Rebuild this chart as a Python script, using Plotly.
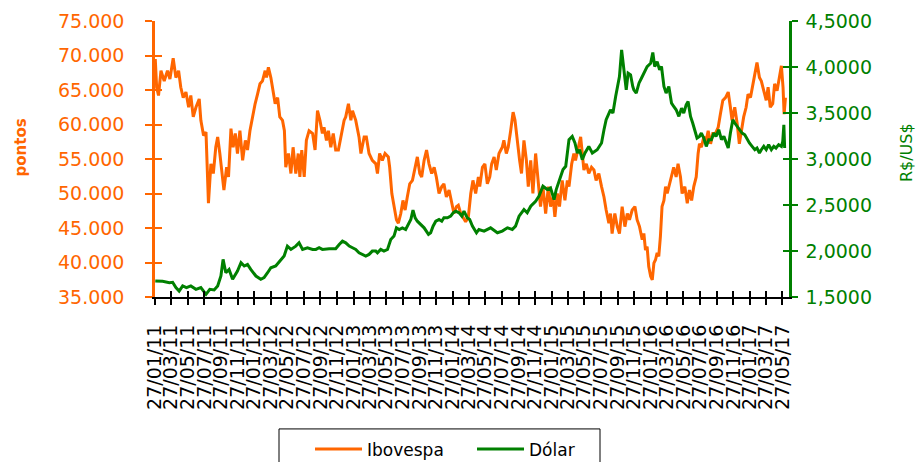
import pandas as pd
import plotly.graph_objects as go

# ---------------- data ----------------
inicio = pd.Timestamp("2011-01-27")

# Ibovespa: days since 27/01/2011 and value in thousand points
dias_ibov = [
    0, 5, 12, 21, 33, 45, 54, 66, 76, 86, 94, 103, 113, 123, 131, 140, 150, 162, 168, 178,
    187, 196, 205, 214, 223, 230, 238, 246, 253, 263, 270, 279, 287, 295, 303, 312, 322, 332, 340, 349,
    359, 368, 377, 386, 395, 405, 410, 417, 426, 435, 442, 451, 459, 469, 476, 481, 491, 500, 508, 518,
    527, 533, 540, 549, 557, 567, 580,
    589, 598, 607, 616, 622, 631, 638, 647, 656, 665, 675, 684, 696, 702, 712, 721, 727, 739, 751, 758,
    770, 778, 788, 800, 813, 819, 827, 837, 847, 859, 864, 872, 880, 889, 896, 905, 913, 921, 929, 938,
    948, 958, 966, 975, 982, 991, 1000, 1009, 1019, 1028, 1036, 1046, 1056, 1064, 1073, 1083, 1093, 1101,
    1110, 1117, 1126, 1134, 1144, 1154,
    1163, 1171, 1181, 1191, 1196, 1206, 1215, 1224, 1233, 1240, 1249, 1257, 1267, 1279, 1285, 1294, 1301,
    1310, 1319, 1326, 1335, 1343, 1350, 1359, 1368, 1375, 1384, 1392, 1402, 1412, 1420, 1429, 1439, 1449,
    1457, 1466, 1473, 1482, 1490, 1500, 1510, 1519, 1525, 1535, 1543, 1549, 1559, 1568, 1574, 1580, 1589,
    1598, 1608, 1617, 1625, 1635, 1645, 1654, 1662, 1672, 1678, 1684, 1694, 1703, 1711, 1721, 1731, 1740,
    1748, 1758,
    1768, 1776, 1785, 1795, 1801, 1807, 1813, 1819, 1826, 1832, 1838, 1844, 1850, 1856, 1862, 1868, 1875,
    1881, 1887, 1893, 1903, 1911, 1920, 1927, 1936, 1942, 1952, 1961, 1969, 1977, 1985, 1994, 2001, 2006,
    2013, 2022, 2031, 2038, 2047, 2055, 2065, 2075, 2083, 2092, 2102, 2112, 2120, 2126, 2136, 2145, 2153,
    2161, 2169, 2178, 2185, 2194, 2202, 2210, 2218, 2227, 2234, 2243, 2252, 2259, 2267, 2276, 2283, 2292,
    2301, 2308, 2314, 2318, 2323,
]
ibovespa_mil = [
    69.5, 65.4, 64.2, 67.8, 66.3, 67.8, 66.6, 69.6, 66.8, 67.8, 65.4, 63.9, 64.7, 62.5, 64.2, 61.1, 62.5, 63.7, 60.6, 58.4,
    58.9, 48.6, 54.3, 52.9, 56.7, 58.2, 55.8, 52.4, 50.5, 53.8, 52.4, 59.4, 56.7, 58.7, 55.8, 59.1, 54.8, 57.7, 56.3, 59.1,
    61.5, 63.0, 64.4, 65.9, 66.3, 67.8, 66.8, 68.3, 66.8, 64.9, 63.0, 63.9, 61.1, 60.6, 59.1, 53.8, 55.8, 52.9, 56.7, 52.9,
    55.8, 52.4, 56.3, 52.4, 57.7, 59.1, 58.7,
    56.3, 62.0, 60.6, 58.7, 59.6, 57.7, 59.1, 56.7, 58.7, 56.3, 56.3, 58.2, 60.6, 61.1, 63.0, 60.6, 62.0, 60.6, 58.2, 55.8,
    58.2, 58.2, 55.8, 54.8, 54.3, 52.9, 55.8, 54.8, 55.8, 55.3, 53.8, 50.0, 48.1, 46.2, 45.7, 47.1, 49.0, 47.6, 49.5, 51.4,
    51.9, 53.8, 55.3, 52.9, 52.4, 54.8, 56.3, 54.3, 52.9, 53.8, 52.4, 50.0, 51.0, 51.4, 49.5, 50.5, 48.6, 47.1,
    48.1, 48.3, 47.1, 46.6, 45.9, 46.6,
    50.0, 51.9, 50.0, 52.4, 51.0, 53.8, 54.3, 51.4, 52.4, 54.3, 55.3, 53.4, 55.8, 56.7, 57.7, 55.8, 56.7,
    59.1, 61.8, 60.6, 57.2, 54.8, 52.9, 57.7, 54.8, 51.0, 54.8, 50.0, 55.8, 51.9, 48.1, 51.0, 47.1, 51.0,
    48.1, 49.5, 46.6, 50.0, 48.1, 51.9, 49.0, 51.9, 51.0, 54.3, 55.8, 54.8, 56.7, 58.2, 55.8, 53.4, 54.3,
    52.9, 53.8, 53.4, 51.9, 52.9, 51.0, 49.5, 47.6, 45.7, 47.1, 44.2, 47.1, 45.2, 44.2, 48.1, 45.2, 47.1,
    46.2, 47.6,
    48.1, 46.2, 45.2, 43.3, 44.2, 41.8, 42.3, 39.4, 38.0, 37.5, 39.9, 40.4, 41.4, 40.9, 43.8, 48.1, 49.0,
    51.0, 50.0, 51.0, 52.9, 53.8, 52.4, 54.3, 52.4, 50.0, 51.0, 48.6, 50.5, 49.0, 51.0, 52.4, 55.8, 57.2,
    56.7, 58.2, 57.7, 59.1, 57.2, 58.7, 58.7, 59.6, 61.5, 63.5, 63.9, 64.7, 62.5, 60.6, 62.5, 60.1, 57.2,
    59.1, 61.1, 62.5, 64.4, 63.9, 65.4, 67.3, 69.0, 66.8, 66.3, 64.9, 63.5, 65.4, 62.5, 63.0, 65.9, 64.9,
    66.8, 68.5, 65.4, 61.5, 63.9,
]

# Dólar (R$/US$): days since 27/01/2011 and rate
dias_dolar = [
    0, 27, 52, 64, 76, 88, 101, 115, 131, 150, 168, 187, 201, 217, 230, 242, 250, 260, 272, 285,
    303, 316, 328, 340, 352, 371, 389, 401, 414, 426, 444, 463, 475, 487, 500, 518, 530, 543, 561, 580,
    592, 604, 616, 641, 665, 678, 690, 702, 715, 727, 739, 751, 764, 776, 788, 800, 813, 819, 831, 843,
    856, 868, 880, 889, 899, 911, 923, 933, 942, 950, 958, 966, 979, 991, 1007, 1015, 1024, 1034, 1046,
    1056, 1064, 1077, 1089, 1098, 1107, 1120, 1130, 1138, 1150, 1159, 1169,
    1184, 1193, 1212, 1236, 1261, 1279, 1298, 1316, 1328, 1341, 1359, 1371, 1384, 1402, 1414, 1429, 1445,
    1457, 1470, 1478, 1490, 1503, 1513, 1519, 1525, 1537, 1547, 1556, 1564, 1574, 1584, 1598, 1611, 1629,
    1645, 1654, 1662, 1678, 1687, 1697, 1707, 1711, 1719, 1727, 1736, 1743, 1752, 1760,
    1764, 1773, 1783, 1792, 1801, 1813, 1826, 1834, 1841, 1850, 1859, 1866, 1875, 1883, 1893, 1903, 1911,
    1920, 1930, 1940, 1948, 1957, 1964, 1973, 1981, 1989, 1997, 2006, 2013, 2022, 2031, 2040, 2050, 2059,
    2067, 2077, 2087, 2096, 2104, 2112, 2120, 2129, 2136, 2145, 2153, 2163, 2173, 2182, 2190, 2200, 2210,
    2218, 2227, 2234, 2243, 2252, 2261, 2271, 2280, 2288, 2298, 2308, 2313, 2317, 2320,
]
dolar = [
    1.674, 1.670, 1.656, 1.660, 1.602, 1.565, 1.620, 1.602, 1.620, 1.583, 1.602, 1.529, 1.583, 1.576, 1.620, 1.728, 1.909, 1.764, 1.800, 1.692,
    1.782, 1.873, 1.837, 1.855, 1.800, 1.728, 1.692, 1.710, 1.764, 1.818, 1.837, 1.909, 1.945, 2.053, 2.017, 2.053, 2.089, 2.017, 2.035, 2.017,
    2.017, 2.035, 2.017, 2.024, 2.024, 2.071, 2.107, 2.089, 2.053, 2.035, 2.017, 1.981, 1.963, 1.945, 1.963, 1.999, 1.999, 1.981, 2.017, 1.999,
    2.017, 2.125, 2.162, 2.252, 2.234, 2.252, 2.234, 2.288, 2.342, 2.444, 2.361, 2.324, 2.288, 2.252, 2.180, 2.198, 2.270, 2.324, 2.342,
    2.324, 2.361, 2.361, 2.379, 2.415, 2.433, 2.415, 2.379, 2.433, 2.361, 2.342, 2.270,
    2.198, 2.234, 2.216, 2.252, 2.198, 2.216, 2.252, 2.234, 2.270, 2.379, 2.451, 2.415, 2.487, 2.541, 2.595, 2.704, 2.668,
    2.686, 2.559, 2.668, 2.776, 2.885, 2.921, 3.065, 3.210, 3.246, 3.174, 3.065, 3.101, 2.993, 3.065, 3.137, 3.065, 3.101,
    3.174, 3.318, 3.427, 3.535, 3.499, 3.680, 3.860, 3.896, 4.186, 3.969, 3.752, 3.933, 3.915, 3.788,
    3.752, 3.716, 3.824, 3.878, 3.933, 4.005, 4.041, 4.157, 4.005, 4.059, 3.969, 4.005, 3.788, 3.716, 3.788, 3.607, 3.571,
    3.535, 3.463, 3.553, 3.499, 3.589, 3.625, 3.463, 3.391, 3.318, 3.228, 3.246, 3.282, 3.228, 3.137, 3.210, 3.210, 3.282,
    3.246, 3.318, 3.210, 3.246, 3.174, 3.119, 3.282, 3.427, 3.391, 3.354, 3.318, 3.282, 3.264, 3.210, 3.174, 3.137, 3.101,
    3.119, 3.065, 3.101, 3.137, 3.101, 3.156, 3.101, 3.137, 3.119, 3.156, 3.137, 3.192, 3.372, 3.119,
]

# tick labels: every two months, 27/01/11 ... 27/05/17
marcas = pd.date_range("2011-01-27", "2017-05-27", freq=pd.DateOffset(months=2))
rotulos = [d.strftime("%d/%m/%y") for d in marcas]

# ---------------- styling ----------------
LARANJA = "#FF6600"
VERDE = "#008000"
FONTE = "DejaVu Sans"

datas_ibov = [inicio + pd.Timedelta(days=d) for d in dias_ibov]
valores_ibov = [v * 1000 for v in ibovespa_mil]
datas_dolar = [inicio + pd.Timedelta(days=d) for d in dias_dolar]
faixa_x = [inicio - pd.Timedelta(days=1), inicio + pd.Timedelta(days=2336)]
faixa_y1 = [35000, 75000]
faixa_y2 = [1.5, 4.5]

fig = go.Figure()
fig.add_trace(go.Scatter(x=datas_ibov, y=valores_ibov, name="Ibovespa", mode="lines",
                         line=dict(color=LARANJA, width=3), xaxis="x", yaxis="y"))
fig.add_trace(go.Scatter(x=datas_dolar, y=dolar, name="Dólar", mode="lines",
                         line=dict(color=VERDE, width=3), xaxis="x", yaxis="y2"))
# invisible helpers so the overlay axes (inner half of crossing ticks) are drawn
fig.add_trace(go.Scatter(x=[None], y=[None], xaxis="x2", yaxis="y3", showlegend=False, hoverinfo="skip"))
fig.add_trace(go.Scatter(x=[None], y=[None], xaxis="x", yaxis="y4", showlegend=False, hoverinfo="skip"))

fig.update_layout(
    width=918, height=462, autosize=False,
    margin=dict(l=155, r=129, t=21, b=165, autoexpand=False),
    paper_bgcolor="white", plot_bgcolor="white",
    separators=",.",
    font=dict(family=FONTE, color="black"),
    showlegend=True,
    xaxis=dict(type="date", range=faixa_x, tickvals=marcas, ticktext=rotulos, tickangle=-90,
               ticks="outside", ticklen=6, tickwidth=1.5, tickcolor="black",
               showline=True, linecolor="black", linewidth=2, showgrid=False, zeroline=False,
               tickfont=dict(size=19, color="black", family=FONTE), ticklabelstandoff=12, anchor="y"),
    xaxis2=dict(type="date", range=faixa_x, tickvals=marcas, overlaying="x", anchor="y", side="bottom",
                ticks="inside", ticklen=6, tickwidth=1.5, tickcolor="black", showticklabels=False,
                showline=False, showgrid=False, zeroline=False),
    yaxis=dict(range=faixa_y1, tick0=35000, dtick=5000, tickformat=",.0f",
               ticks="outside", ticklen=7, tickwidth=2, tickcolor=LARANJA,
               showline=True, linecolor=LARANJA, linewidth=2.5, showgrid=False, zeroline=False,
               tickfont=dict(size=19, color=LARANJA, family=FONTE), ticklabelstandoff=17, anchor="x"),
    yaxis2=dict(range=faixa_y2, tick0=1.5, dtick=0.5, tickformat=".4f", overlaying="y", side="right",
                ticks="outside", ticklen=6, tickwidth=2, tickcolor=VERDE,
                showline=True, linecolor=VERDE, linewidth=2.5, showgrid=False, zeroline=False,
                tickfont=dict(size=19, color=VERDE, family=FONTE), ticklabelstandoff=4, anchor="x"),
    yaxis3=dict(range=faixa_y1, tick0=35000, dtick=5000, overlaying="y", side="left", anchor="x",
                ticks="inside", ticklen=7, tickwidth=2, tickcolor=LARANJA, showticklabels=False,
                showline=False, showgrid=False, zeroline=False),
    yaxis4=dict(range=faixa_y2, tick0=1.5, dtick=0.5, overlaying="y", side="right", anchor="x",
                ticks="inside", ticklen=6, tickwidth=2, tickcolor=VERDE, showticklabels=False,
                showline=False, showgrid=False, zeroline=False),
    legend=dict(orientation="h", x=0.2445, xanchor="left", y=-0.487, yanchor="top",
                borderwidth=0, bgcolor="rgba(0,0,0,0)", itemwidth=47, entrywidth=100,
                font=dict(size=17, color="black", family=FONTE)),
    shapes=[
        # legend frame (runs past the bottom edge, as in the original)
        dict(type="rect", xref="paper", yref="paper", x0=0.1956, x1=0.7019, y0=-0.478, y1=-0.7,
             line=dict(color="black", width=1), fillcolor="white", layer="below"),
    ],
    annotations=[
        dict(text="<b>pontos</b>", xref="paper", yref="paper", x=-0.2098, y=0.5417,
             xanchor="center", yanchor="middle",
             textangle=-90, showarrow=False, font=dict(size=15, color=LARANJA, family=FONTE)),
        dict(text="R$/US$", xref="paper", yref="paper", x=1.1845, y=0.525,
             xanchor="center", yanchor="middle",
             textangle=-90, showarrow=False, font=dict(size=16, color=VERDE, family=FONTE)),
    ],
)

fig.write_html("out.html", config={"displayModeBar": False, "responsive": False},
               post_script="document.body.style.margin='0';")
